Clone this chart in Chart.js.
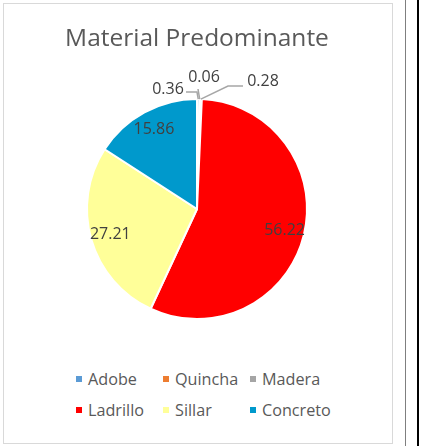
<!DOCTYPE html>
<html>
<head>
<meta charset="utf-8">
<script src="https://cdn.jsdelivr.net/npm/chart.js@4.4.1/dist/chart.umd.min.js"></script>
<style>
body{margin:0;background:#fff;width:421px;height:446px;overflow:hidden;position:relative;font-family:"Open Sans",sans-serif}
#box{position:absolute;left:3px;top:3px;width:388px;height:439px;border:1px solid #d9d9d9}
#chart{position:absolute;left:3px;top:4px}
#line1{position:absolute;left:405px;top:0;width:1px;height:446px;background:#7f7f7f}
#line2{position:absolute;left:417px;top:0;width:2px;height:446px;background:#000}
#legend{position:absolute;left:76px;top:368px;display:grid;grid-template-columns:87px 87px 87px;row-gap:9px;color:#595959;font-size:16.2px}
.item{display:flex;align-items:center;height:22px;white-space:nowrap}
.mark{width:6px;height:6px;margin-right:6px;flex:none}
</style>
</head>
<body>
<div id="box"></div>
<canvas id="chart" width="389" height="350"></canvas>
<div id="legend"></div>
<div id="line1"></div>
<div id="line2"></div>
<script>
const title = "Material Predominante";
const materials = ["Adobe", "Quincha", "Madera", "Ladrillo", "Sillar", "Concreto"];
const percents = [0.36, 0.06, 0.28, 56.22, 27.21, 15.86];
const colors = ["#5b9bd5", "#ed7d31", "#a5a5a5", "#ff0000", "#ffff99", "#0099cc"];

// where the tiny slices put their labels, relative to the top of the pie
const smallLabels = [
    {text: [-29, -10], start: [-11, -7], elbow: [0, -7]},
    {text: [7, -22], start: [1, -10], elbow: [1, -10]},
    {text: [66, -18], start: [46, -13], elbow: [31, -13]}
];

const pieLabels = {
    id: "pieLabels",
    afterDatasetsDraw(chart) {
        const ctx = chart.ctx;
        const meta = chart.getDatasetMeta(0);
        ctx.save();
        ctx.font = "16px 'Open Sans'";
        ctx.fillStyle = "#404040";
        ctx.textAlign = "center";
        ctx.textBaseline = "middle";
        let small = 0;
        meta.data.forEach((arc, i) => {
            const p = arc.getProps(["x", "y", "startAngle", "endAngle", "outerRadius"], true);
            const mid = (p.startAngle + p.endAngle) / 2;
            const txt = percents[i].toFixed(2);
            if (percents[i] >= 1) {
                const r = p.outerRadius * 0.82;
                ctx.fillText(txt, p.x + Math.cos(mid) * r, p.y + Math.sin(mid) * r);
            } else {
                const s = smallLabels[small++];
                const ax = p.x + Math.cos(mid) * p.outerRadius;
                const ay = p.y + Math.sin(mid) * p.outerRadius;
                const tx = p.x, ty = p.y - p.outerRadius;
                ctx.strokeStyle = "#a6a6a6";
                ctx.lineWidth = 1.5;
                ctx.beginPath();
                ctx.moveTo(tx + s.start[0], ty + s.start[1]);
                ctx.lineTo(tx + s.elbow[0], ty + s.elbow[1]);
                ctx.lineTo(ax, ay);
                ctx.stroke();
                ctx.fillText(txt, tx + s.text[0], ty + s.text[1]);
            }
        });
        ctx.restore();
    }
};

new Chart(document.getElementById("chart"), {
    type: "pie",
    data: {
        labels: materials,
        datasets: [{
            data: percents,
            backgroundColor: colors,
            borderColor: "#ffffff",
            borderWidth: 2,
            hoverOffset: 0
        }]
    },
    options: {
        responsive: false,
        animation: false,
        layout: {padding: {left: 0, right: 1, top: 0, bottom: 34}},
        plugins: {
            legend: {display: false},
            tooltip: {enabled: false},
            title: {
                display: true,
                text: title,
                color: "#595959",
                font: {family: "Open Sans", size: 24.5, weight: "normal"},
                padding: {top: 20, bottom: 44.6}
            }
        }
    },
    plugins: [pieLabels]
});

const legend = document.getElementById("legend");
materials.forEach((m, i) => {
    const item = document.createElement("div");
    item.className = "item";
    item.innerHTML = '<span class="mark" style="background:' + colors[i] + '"></span>' + m;
    legend.appendChild(item);
});
</script>
</body>
</html>
